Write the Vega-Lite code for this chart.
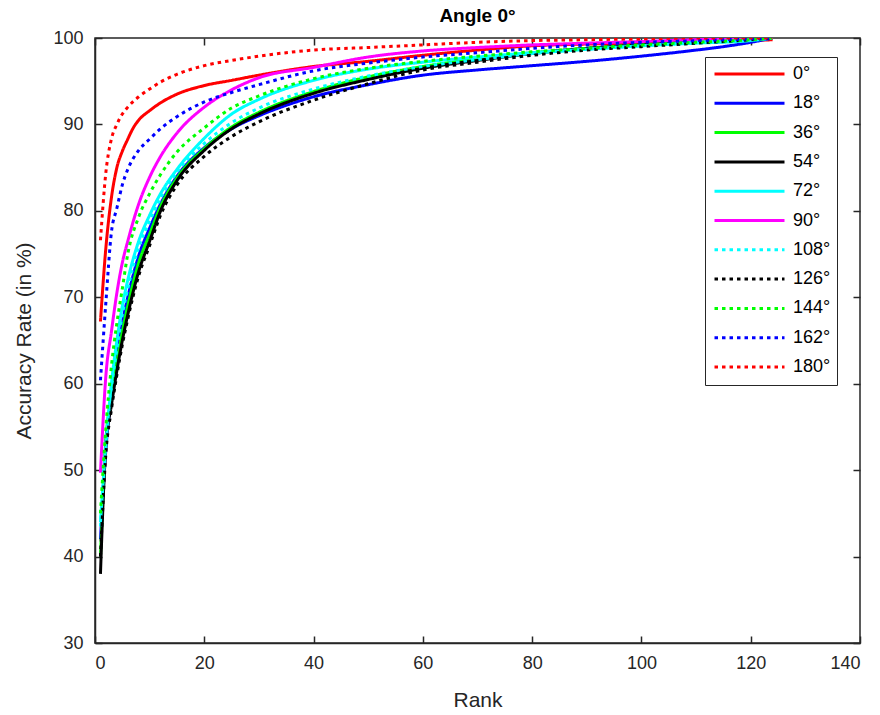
{
"$schema":"https://vega.github.io/schema/vega-lite/v6.json",
"width":765,"height":605,
"autosize":{"type":"none"},
"padding":{"left":95,"top":38,"right":20,"bottom":72},
"background":"white",
"title":{"text":"Angle 0°","fontSize":19,"fontWeight":"bold","font":"Liberation Sans","color":"#000000","anchor":"middle","offset":3},
"config":{"view":{"stroke":"#262626","strokeWidth":1.5},"font":"Liberation Sans"},
"data":{"values":[
{"a":"0°","r":1,"v":67.2},{"a":"0°","r":2,"v":75.8},{"a":"0°","r":3,"v":81.5},{"a":"0°","r":4,"v":85.0},{"a":"0°","r":5,"v":86.9},{"a":"0°","r":6,"v":88.3},{"a":"0°","r":7,"v":89.6},{"a":"0°","r":8,"v":90.5},{"a":"0°","r":10,"v":91.6},{"a":"0°","r":12,"v":92.5},{"a":"0°","r":15,"v":93.5},{"a":"0°","r":20,"v":94.5},{"a":"0°","r":25,"v":95.1},{"a":"0°","r":30,"v":95.7},{"a":"0°","r":40,"v":96.7},{"a":"0°","r":50,"v":97.3},{"a":"0°","r":60,"v":98.0},{"a":"0°","r":70,"v":98.6},{"a":"0°","r":80,"v":99.1},{"a":"0°","r":90,"v":99.3},{"a":"0°","r":100,"v":99.4},{"a":"0°","r":110,"v":99.5},{"a":"0°","r":120,"v":99.7},{"a":"0°","r":124,"v":99.8},
{"a":"18°","r":1,"v":42},{"a":"18°","r":2,"v":52.5},{"a":"18°","r":3,"v":58.5},{"a":"18°","r":4,"v":63},{"a":"18°","r":5,"v":67},{"a":"18°","r":6,"v":70},{"a":"18°","r":8,"v":74.8},{"a":"18°","r":10,"v":78},{"a":"18°","r":12,"v":80.8},{"a":"18°","r":15,"v":84},{"a":"18°","r":20,"v":87.3},{"a":"18°","r":25,"v":89.5},{"a":"18°","r":30,"v":91.0},{"a":"18°","r":40,"v":93.2},{"a":"18°","r":50,"v":94.6},{"a":"18°","r":60,"v":95.7},{"a":"18°","r":70,"v":96.3},{"a":"18°","r":80,"v":96.8},{"a":"18°","r":90,"v":97.3},{"a":"18°","r":100,"v":97.9},{"a":"18°","r":110,"v":98.6},{"a":"18°","r":115,"v":99.0},{"a":"18°","r":120,"v":99.5},{"a":"18°","r":124,"v":100},
{"a":"36°","r":1,"v":40},{"a":"36°","r":2,"v":53.5},{"a":"36°","r":3,"v":58.5},{"a":"36°","r":4,"v":62.5},{"a":"36°","r":5,"v":66},{"a":"36°","r":6,"v":69},{"a":"36°","r":8,"v":74},{"a":"36°","r":10,"v":77.3},{"a":"36°","r":12,"v":80.5},{"a":"36°","r":15,"v":83.8},{"a":"36°","r":20,"v":87.2},{"a":"36°","r":25,"v":89.7},{"a":"36°","r":30,"v":91.4},{"a":"36°","r":40,"v":93.8},{"a":"36°","r":50,"v":95.5},{"a":"36°","r":60,"v":96.7},{"a":"36°","r":70,"v":97.6},{"a":"36°","r":80,"v":98.3},{"a":"36°","r":90,"v":98.8},{"a":"36°","r":100,"v":99.2},{"a":"36°","r":110,"v":99.6},{"a":"36°","r":120,"v":99.9},{"a":"36°","r":124,"v":100},
{"a":"54°","r":1,"v":38},{"a":"54°","r":2,"v":53},{"a":"54°","r":3,"v":57.5},{"a":"54°","r":4,"v":61.5},{"a":"54°","r":5,"v":65},{"a":"54°","r":6,"v":68},{"a":"54°","r":8,"v":73},{"a":"54°","r":10,"v":76.5},{"a":"54°","r":12,"v":80},{"a":"54°","r":15,"v":83.5},{"a":"54°","r":20,"v":87},{"a":"54°","r":25,"v":89.5},{"a":"54°","r":30,"v":91.2},{"a":"54°","r":40,"v":93.6},{"a":"54°","r":50,"v":95.2},{"a":"54°","r":60,"v":96.5},{"a":"54°","r":70,"v":97.4},{"a":"54°","r":80,"v":98.2},{"a":"54°","r":90,"v":98.8},{"a":"54°","r":100,"v":99.2},{"a":"54°","r":110,"v":99.6},{"a":"54°","r":120,"v":99.9},{"a":"54°","r":124,"v":100},
{"a":"72°","r":1,"v":44},{"a":"72°","r":2,"v":53},{"a":"72°","r":3,"v":60},{"a":"72°","r":4,"v":65},{"a":"72°","r":5,"v":69},{"a":"72°","r":6,"v":72},{"a":"72°","r":8,"v":76.5},{"a":"72°","r":10,"v":79.5},{"a":"72°","r":12,"v":82},{"a":"72°","r":15,"v":84.8},{"a":"72°","r":20,"v":88.4},{"a":"72°","r":25,"v":91.2},{"a":"72°","r":30,"v":92.9},{"a":"72°","r":40,"v":95.1},{"a":"72°","r":50,"v":96.4},{"a":"72°","r":60,"v":97.2},{"a":"72°","r":70,"v":97.8},{"a":"72°","r":80,"v":98.3},{"a":"72°","r":90,"v":98.7},{"a":"72°","r":100,"v":99.1},{"a":"72°","r":110,"v":99.4},{"a":"72°","r":120,"v":99.7},{"a":"72°","r":124,"v":100},
{"a":"90°","r":1,"v":49.7},{"a":"90°","r":2,"v":61},{"a":"90°","r":3,"v":66},{"a":"90°","r":4,"v":70.5},{"a":"90°","r":5,"v":74},{"a":"90°","r":6,"v":76.5},{"a":"90°","r":8,"v":80.8},{"a":"90°","r":10,"v":83.9},{"a":"90°","r":12,"v":86.3},{"a":"90°","r":15,"v":89},{"a":"90°","r":20,"v":92.0},{"a":"90°","r":25,"v":94.0},{"a":"90°","r":30,"v":95.4},{"a":"90°","r":40,"v":96.6},{"a":"90°","r":50,"v":97.8},{"a":"90°","r":60,"v":98.5},{"a":"90°","r":70,"v":98.9},{"a":"90°","r":80,"v":99.2},{"a":"90°","r":90,"v":99.4},{"a":"90°","r":100,"v":99.6},{"a":"90°","r":110,"v":99.8},{"a":"90°","r":120,"v":99.9},{"a":"90°","r":124,"v":100},
{"a":"108°","r":1,"v":43.5},{"a":"108°","r":2,"v":53},{"a":"108°","r":3,"v":59.5},{"a":"108°","r":4,"v":64},{"a":"108°","r":5,"v":68},{"a":"108°","r":6,"v":71},{"a":"108°","r":8,"v":75.8},{"a":"108°","r":10,"v":78.8},{"a":"108°","r":12,"v":81.5},{"a":"108°","r":15,"v":84.5},{"a":"108°","r":20,"v":87.8},{"a":"108°","r":25,"v":90.2},{"a":"108°","r":30,"v":91.9},{"a":"108°","r":40,"v":94.1},{"a":"108°","r":50,"v":95.6},{"a":"108°","r":60,"v":96.7},{"a":"108°","r":70,"v":97.5},{"a":"108°","r":80,"v":98.2},{"a":"108°","r":90,"v":98.7},{"a":"108°","r":100,"v":99.1},{"a":"108°","r":110,"v":99.5},{"a":"108°","r":120,"v":99.8},{"a":"108°","r":124,"v":100},
{"a":"126°","r":1,"v":40},{"a":"126°","r":2,"v":52},{"a":"126°","r":3,"v":57},{"a":"126°","r":4,"v":61},{"a":"126°","r":5,"v":64.5},{"a":"126°","r":6,"v":67.5},{"a":"126°","r":8,"v":72.5},{"a":"126°","r":10,"v":76},{"a":"126°","r":12,"v":79.5},{"a":"126°","r":15,"v":83},{"a":"126°","r":20,"v":86.3},{"a":"126°","r":25,"v":88.6},{"a":"126°","r":30,"v":90.3},{"a":"126°","r":40,"v":92.8},{"a":"126°","r":50,"v":94.7},{"a":"126°","r":60,"v":96.3},{"a":"126°","r":70,"v":97.2},{"a":"126°","r":80,"v":98.0},{"a":"126°","r":90,"v":98.6},{"a":"126°","r":100,"v":99.0},{"a":"126°","r":110,"v":99.4},{"a":"126°","r":120,"v":99.8},{"a":"126°","r":124,"v":100},
{"a":"144°","r":1,"v":45},{"a":"144°","r":2,"v":55},{"a":"144°","r":3,"v":62},{"a":"144°","r":4,"v":67},{"a":"144°","r":5,"v":71},{"a":"144°","r":6,"v":75},{"a":"144°","r":8,"v":79.3},{"a":"144°","r":10,"v":82},{"a":"144°","r":12,"v":84.2},{"a":"144°","r":15,"v":86.8},{"a":"144°","r":20,"v":89.6},{"a":"144°","r":25,"v":91.9},{"a":"144°","r":30,"v":93.3},{"a":"144°","r":40,"v":95.3},{"a":"144°","r":50,"v":96.5},{"a":"144°","r":60,"v":97.3},{"a":"144°","r":70,"v":97.9},{"a":"144°","r":80,"v":98.4},{"a":"144°","r":90,"v":98.8},{"a":"144°","r":100,"v":99.2},{"a":"144°","r":110,"v":99.5},{"a":"144°","r":120,"v":99.8},{"a":"144°","r":124,"v":100},
{"a":"162°","r":1,"v":60.4},{"a":"162°","r":2,"v":69.5},{"a":"162°","r":3,"v":77.5},{"a":"162°","r":4,"v":80.3},{"a":"162°","r":5,"v":83},{"a":"162°","r":6,"v":84.8},{"a":"162°","r":8,"v":87},{"a":"162°","r":10,"v":88.3},{"a":"162°","r":12,"v":89.5},{"a":"162°","r":15,"v":90.9},{"a":"162°","r":20,"v":92.6},{"a":"162°","r":25,"v":93.7},{"a":"162°","r":30,"v":94.6},{"a":"162°","r":40,"v":96.2},{"a":"162°","r":50,"v":97.1},{"a":"162°","r":60,"v":97.8},{"a":"162°","r":70,"v":98.3},{"a":"162°","r":80,"v":98.8},{"a":"162°","r":90,"v":99.2},{"a":"162°","r":100,"v":99.5},{"a":"162°","r":110,"v":99.7},{"a":"162°","r":120,"v":99.9},{"a":"162°","r":124,"v":100},
{"a":"180°","r":1,"v":76.6},{"a":"180°","r":2,"v":84.5},{"a":"180°","r":3,"v":88.3},{"a":"180°","r":4,"v":90.0},{"a":"180°","r":5,"v":91.2},{"a":"180°","r":6,"v":92.0},{"a":"180°","r":8,"v":93.2},{"a":"180°","r":10,"v":94.1},{"a":"180°","r":12,"v":94.9},{"a":"180°","r":15,"v":95.8},{"a":"180°","r":20,"v":96.8},{"a":"180°","r":25,"v":97.4},{"a":"180°","r":30,"v":97.9},{"a":"180°","r":40,"v":98.6},{"a":"180°","r":50,"v":98.9},{"a":"180°","r":60,"v":99.2},{"a":"180°","r":70,"v":99.5},{"a":"180°","r":80,"v":99.7},{"a":"180°","r":90,"v":99.8},{"a":"180°","r":100,"v":99.9},{"a":"180°","r":110,"v":100},{"a":"180°","r":120,"v":100},{"a":"180°","r":124,"v":100}
]},
"resolve":{"axis":{"x":"independent","y":"independent"}},
"layer":[
{"mark":{"type":"line","strokeWidth":3,"strokeCap":"butt","interpolate":"monotone","clip":true},
"encoding":{
"x":{"field":"r","type":"quantitative","scale":{"domain":[0,140],"nice":false},
 "axis":{"title":"Rank","values":[0,20,40,60,80,100,120,140],"grid":false,"domainColor":"#262626","domainWidth":1.5,"tickColor":"#262626","tickWidth":1.5,"tickSize":-7,"labelPadding":18,"labelFontSize":18,"labelColor":"#262626","labelFont":"Liberation Sans","titleFont":"Liberation Sans","titleFontSize":21,"titleFontWeight":"normal","titleColor":"#262626","titlePadding":17}},
"y":{"field":"v","type":"quantitative","scale":{"domain":[30,100],"nice":false,"zero":false},
 "axis":{"title":"Accuracy Rate (in %)","values":[30,40,50,60,70,80,90,100],"grid":false,"domainColor":"#262626","domainWidth":1.5,"tickColor":"#262626","tickWidth":1.5,"tickSize":-7,"labelPadding":19,"labelFontSize":18,"labelColor":"#262626","labelFont":"Liberation Sans","titleFont":"Liberation Sans","titleFontSize":21,"titleFontWeight":"normal","titleColor":"#262626","titlePadding":18}},
"color":{"field":"a","type":"nominal","title":null,
 "scale":{"domain":["0°","18°","36°","54°","72°","90°","108°","126°","144°","162°","180°"],"range":["#ff0000","#0000ff","#00ff00","#000000","#00ffff","#ff00ff","#00ffff","#000000","#00ff00","#0000ff","#ff0000"]},
 "legend":{"orient":"none","legendX":610,"legendY":19,"symbolType":"stroke","symbolSize":4900,"symbolStrokeWidth":3,"clipHeight":22,"rowPadding":7.3,"padding":6,"labelOffset":7,"labelFontSize":18,"labelFont":"Liberation Sans","labelColor":"#000000","strokeColor":"#262626","fillColor":"white","symbolOffset":2}},
"strokeDash":{"field":"a","type":"nominal","title":null,
 "scale":{"domain":["0°","18°","36°","54°","72°","90°","108°","126°","144°","162°","180°"],"range":[[1,0],[1,0],[1,0],[1,0],[1,0],[1,0],[3.5,4],[3.5,4],[3.5,4],[3.5,4],[3.5,4]]},
 "legend":{"orient":"none","legendX":610,"legendY":19,"symbolType":"stroke","symbolSize":4900,"symbolStrokeWidth":3,"clipHeight":22,"rowPadding":7.3,"padding":6,"labelOffset":7,"labelFontSize":18,"labelFont":"Liberation Sans","labelColor":"#000000","strokeColor":"#262626","fillColor":"white","symbolOffset":2}}
}},
{"mark":{"type":"line","opacity":0},
"encoding":{
"x":{"field":"r","type":"quantitative","axis":{"orient":"top","title":null,"labels":false,"values":[0,20,40,60,80,100,120,140],"grid":false,"domain":false,"tickColor":"#262626","tickWidth":1.5,"tickSize":-7}},
"y":{"field":"v","type":"quantitative","axis":{"orient":"right","title":null,"labels":false,"values":[30,40,50,60,70,80,90,100],"grid":false,"domain":false,"tickColor":"#262626","tickWidth":1.5,"tickSize":-7}},
"detail":{"field":"a","type":"nominal"}
}}
]
}
